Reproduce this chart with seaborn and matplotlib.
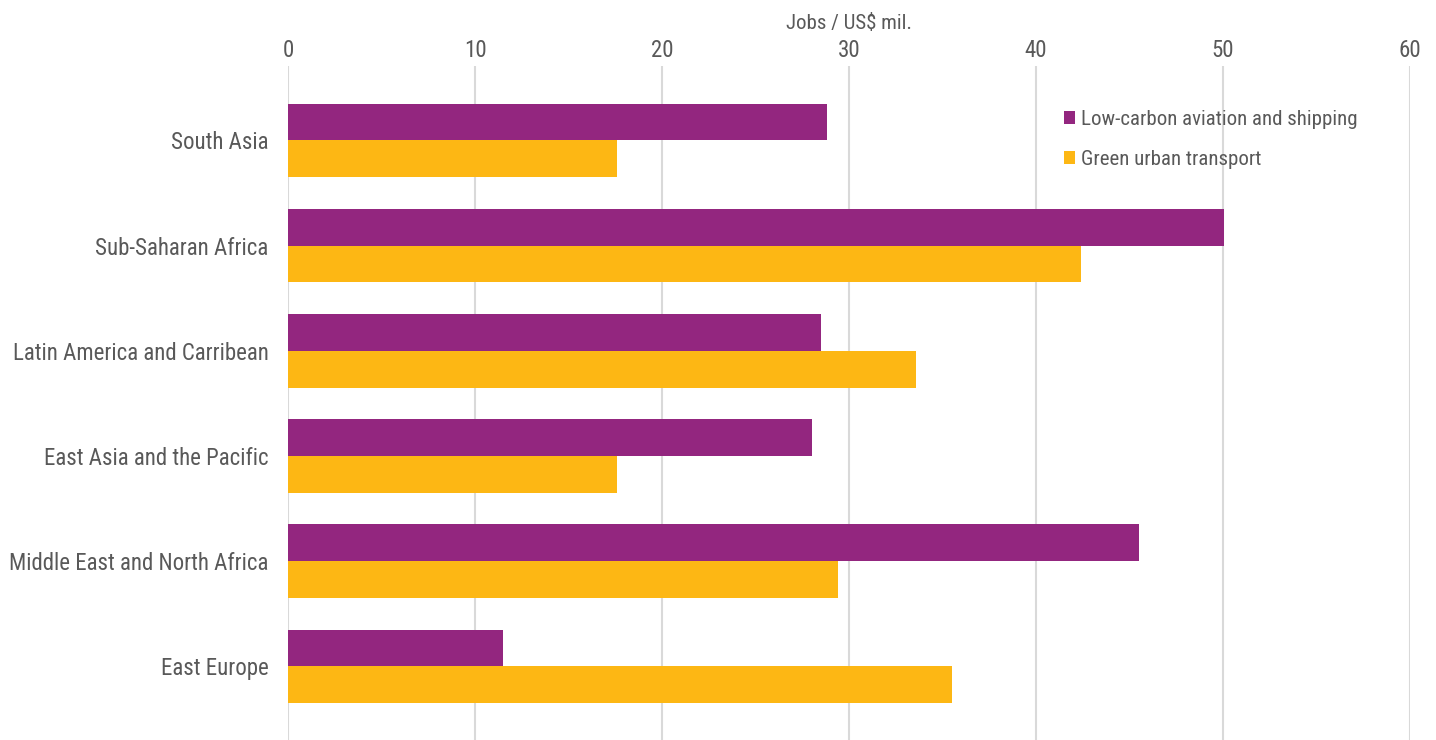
import numpy as np
import pandas as pd
import matplotlib
matplotlib.use('Agg')
import matplotlib.pyplot as plt
import seaborn as sns

regions = ['South Asia', 'Sub-Saharan Africa', 'Latin America and Carribean',
           'East Asia and the Pacific', 'Middle East and North Africa', 'East Europe']
aviation_shipping = [28.8, 50.05, 28.5, 28.0, 45.5, 11.5]
urban_transport = [17.6, 42.4, 33.6, 17.6, 29.4, 35.5]
series_names = ['Low-carbon aviation and shipping', 'Green urban transport']
series_colors = ['#93267f', '#fdb714']

df = pd.DataFrame({
    'region': regions * 2,
    'value': aviation_shipping + urban_transport,
    'series': [series_names[0]] * len(regions) + [series_names[1]] * len(regions),
})

sns.set_style('white')
plt.rcParams['font.family'] = ['Roboto Condensed', 'Liberation Sans Narrow', 'Roboto', 'DejaVu Sans']
txt = '#595959'

fig = plt.figure(figsize=(14.36, 7.40), dpi=100)
ax = fig.add_axes([288 / 1436, 0.0, (1410 - 288) / 1436, 1 - 66 / 740])

sns.barplot(data=df, y='region', x='value', hue='series', orient='h',
            palette=series_colors, width=0.7, saturation=1, linewidth=0,
            ax=ax, zorder=3)

ax.set_xlim(0, 60)
ax.set_ylim(5.70, -0.708)
ax.set_xticks(range(0, 61, 10))
ax.xaxis.tick_top()
ax.xaxis.set_label_position('top')
ax.set_xlabel('Jobs / US$ mil.', fontsize=15, color=txt, labelpad=7)
ax.set_ylabel('')
ax.tick_params(axis='both', length=0, labelsize=16.5, colors=txt)
ax.tick_params(axis='x', pad=3)
ax.tick_params(axis='y', pad=14)
ax.grid(axis='x', color='#d9d9d9', linewidth=1.5, zorder=0)
ax.grid(axis='y', visible=False)
for s in ax.spines.values():
    s.set_visible(False)

leg = ax.legend(loc='upper right', bbox_to_anchor=(0.961, 0.947), frameon=False,
                fontsize=15, labelcolor=txt, handlelength=0.55, handleheight=0.55,
                handletextpad=0.3, labelspacing=1.0, borderaxespad=0)

fig.savefig('out.png', dpi=100)
